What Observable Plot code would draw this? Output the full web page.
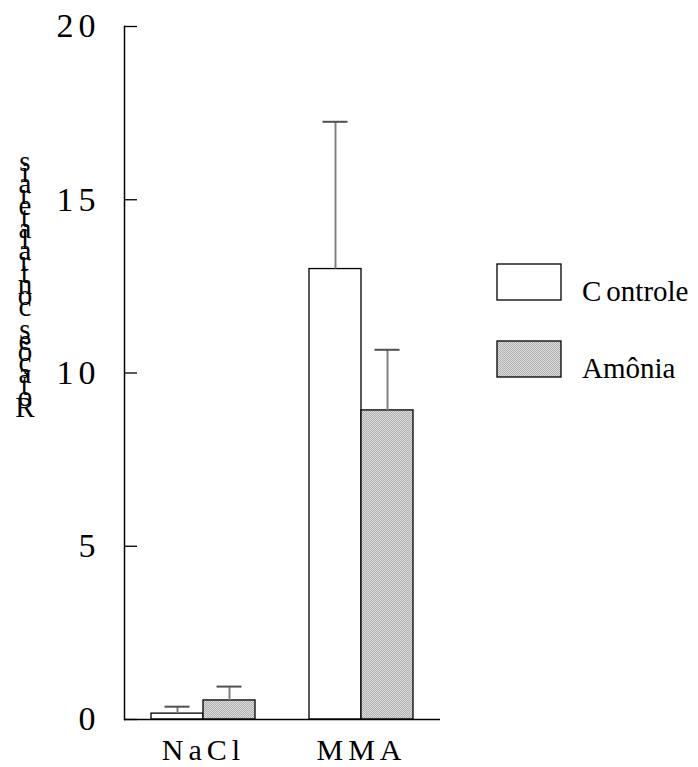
<!DOCTYPE html>
<html><head><meta charset="utf-8">
<script src="https://cdn.jsdelivr.net/npm/d3@7"></script>
<script src="https://cdn.jsdelivr.net/npm/@observablehq/plot@0.6"></script>
<style>body{margin:0;background:#fff} svg{display:block}</style>
</head><body><div id="chart"></div>
<script>
const groups = ["NaCl", "MMA"];
const series = ["Controle", "Amônia"];
const controleValues = [0.17, 13.0];
const controleErrors = [0.2, 4.25];
const amoniaValues = [0.55, 8.92];
const amoniaErrors = [0.4, 1.75];
const yTicks = [0, 5, 10, 15, 20];
const yLabel = "Rotações contralaterais";

const data = [];
groups.forEach((g, i) => {
  data.push({group: g, series: series[0], value: controleValues[i], err: controleErrors[i]});
  data.push({group: g, series: series[1], value: amoniaValues[i], err: amoniaErrors[i]});
});

const serif = "'Liberation Serif', 'Times New Roman', serif";
const plot = Plot.plot({
  width: 698, height: 767,
  marginLeft: 123, marginRight: 258, marginTop: 26, marginBottom: 48,
  style: {fontFamily: serif, background: "white", color: "black", overflow: "visible"},
  fx: {domain: groups, padding: 0},
  x: {domain: series, paddingInner: 0, paddingOuter: 0.5, axis: null},
  y: {domain: [0, 20]},
  color: {domain: series, range: ["white", "url(#stipple)"]},
  marks: [
    Plot.barY(data, {fx: "group", x: "series", y: "value", fill: "series", stroke: "black", strokeWidth: 1.3}),
    Plot.ruleX(data, {fx: "group", x: "series", y1: "value", y2: d => d.value + d.err, stroke: "#808080", strokeWidth: 2}),
    Plot.tickY(data, {fx: "group", x: "series", y: d => d.value + d.err, stroke: "#505050", strokeWidth: 2, insetLeft: 13.5, insetRight: 13.5}),
    Plot.ruleY([0], {stroke: "black", strokeWidth: 1.5}),
    Plot.frame({anchor: "left", facetAnchor: "left", stroke: "black", strokeWidth: 1.5}),
    Plot.axisY({ticks: yTicks, tickSize: -13, tickFormat: () => "", stroke: "black", strokeWidth: 1.3, label: null}),
    Plot.axisY({ticks: yTicks, tickSize: 0, tickPadding: 24, fontSize: 34, label: null, fill: "black"}),
    Plot.axisFx({anchor: "bottom", tickSize: 0, tickPadding: 19, fontSize: 30, label: null, fill: "black"})
  ]
});

const svg = d3.select(plot);
const defs = svg.insert("defs", ":first-child");
const pat = defs.append("pattern").attr("id", "stipple").attr("patternUnits", "userSpaceOnUse")
  .attr("width", 2).attr("height", 2);
pat.append("rect").attr("width", 2).attr("height", 2).attr("fill", "#dcdcdc");
pat.append("rect").attr("x", 0).attr("y", 0).attr("width", 1).attr("height", 1).attr("fill", "#b0b0b0");
pat.append("rect").attr("x", 1).attr("y", 1).attr("width", 1).attr("height", 1).attr("fill", "#b0b0b0");

svg.selectAll('[aria-label="y-axis tick label"] text').attr("letter-spacing", 5);
svg.selectAll('[aria-label="fx-axis tick label"] text').attr("letter-spacing", 5);

// legend
const color = plot.scale("color");
const leg = svg.append("g");
series.forEach((s, i) => {
  const y0 = 264 + i * 77;
  leg.append("rect").attr("x", 497).attr("y", y0).attr("width", 64).attr("height", 36)
    .attr("fill", color.apply(s)).attr("stroke", "black").attr("stroke-width", 1.3);
  const t = leg.append("text").attr("x", 582).attr("y", y0 + 37).attr("fill", "black")
    .attr("text-anchor", "start").style("font-family", serif).style("font-size", "29px");
  t.append("tspan").text(s.slice(0, 1));
  t.append("tspan").attr("dx", i === 0 ? 5 : 0).text(s.slice(1));
});

// y label: upright characters stacked bottom to top
const lab = svg.append("g");
[...yLabel].forEach((ch, i) => {
  if (ch === " ") return;
  lab.append("text").attr("x", 25).attr("y", 417 - i * 11.2).attr("fill", "black")
    .attr("text-anchor", "middle").style("font-family", serif).style("font-size", "29px").text(ch);
});

document.getElementById("chart").appendChild(plot);
</script>
</body></html>
